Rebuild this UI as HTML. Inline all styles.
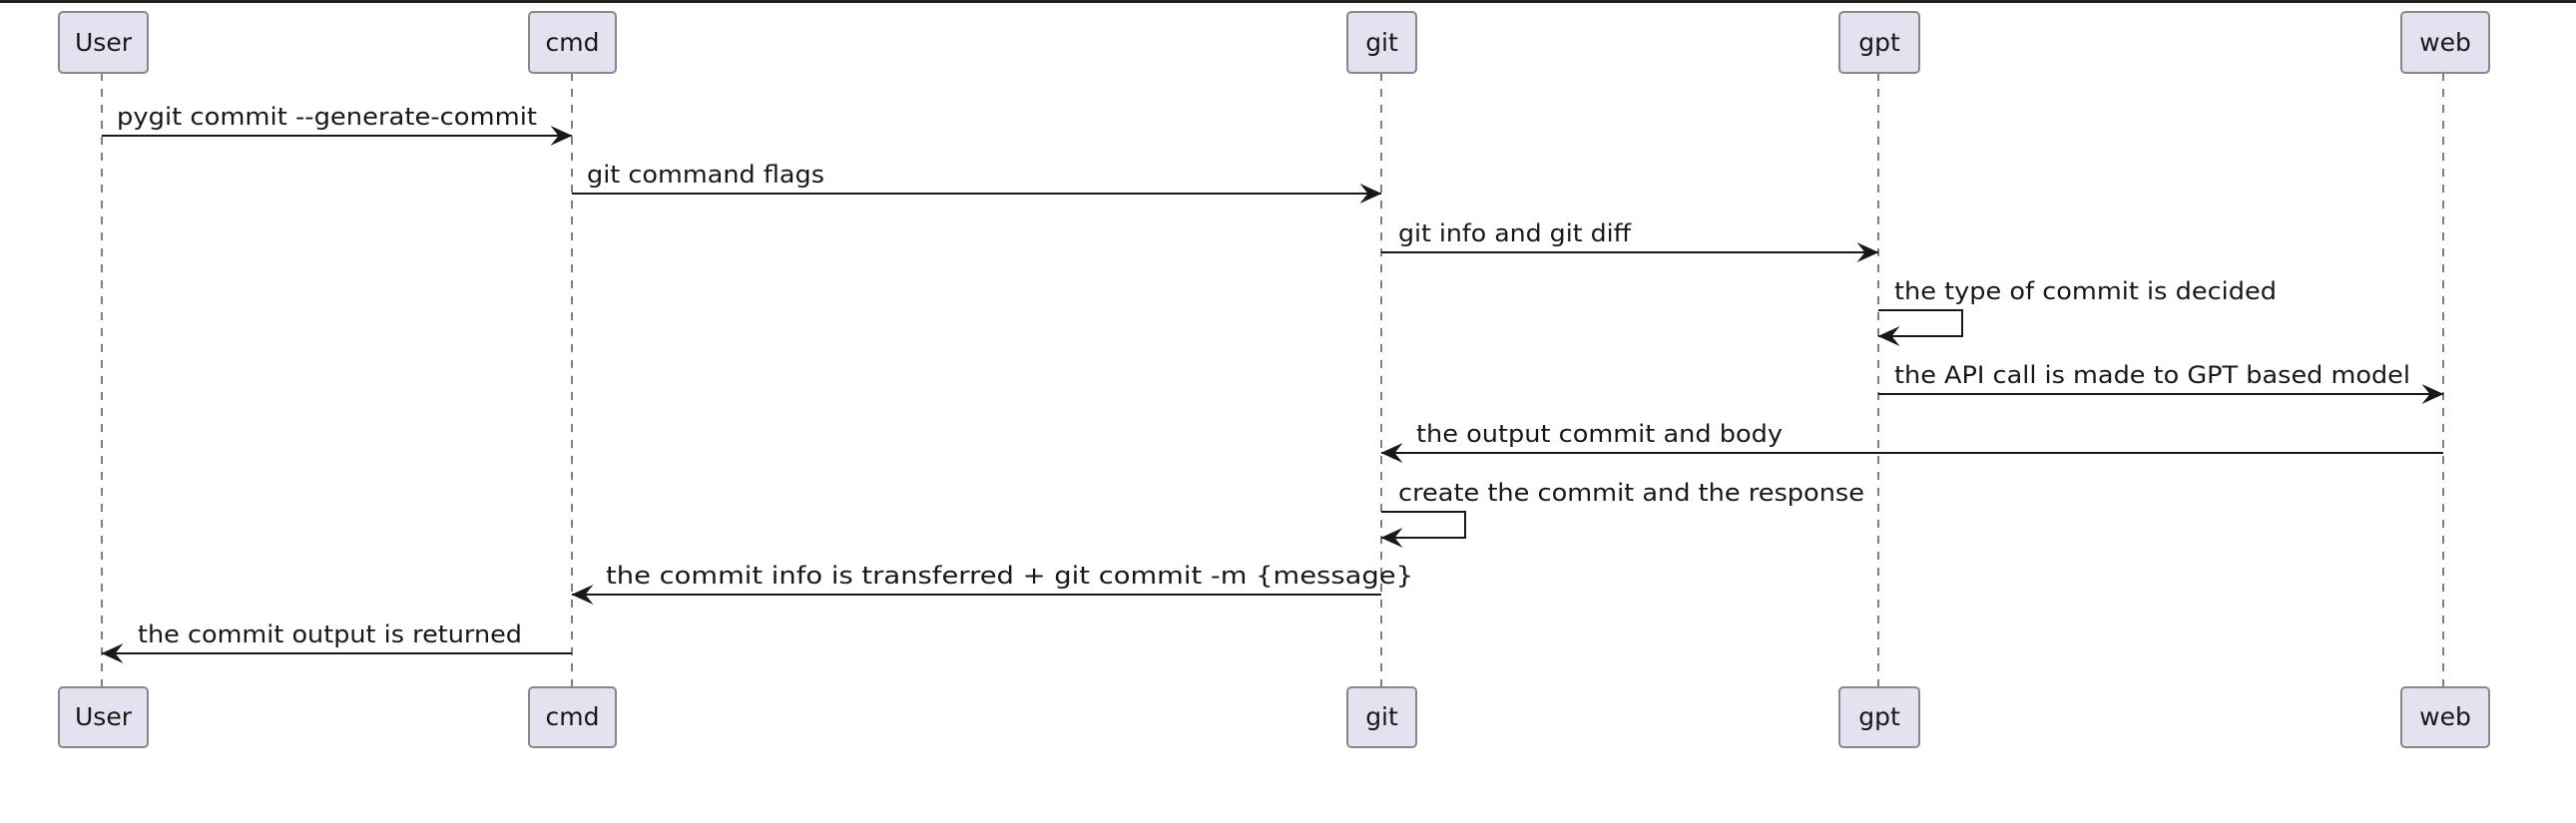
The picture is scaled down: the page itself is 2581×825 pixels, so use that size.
<!DOCTYPE html>
<html><head><meta charset="utf-8"><style>html,body{margin:0;padding:0;background:#fff;}svg{display:block}</style></head><body>
<svg width="2581" height="825" viewBox="0 0 2581 825" xmlns="http://www.w3.org/2000/svg" font-family="'DejaVu Sans','Liberation Sans',sans-serif" font-size="24">
<rect x="0" y="0" width="2581" height="3" fill="#222"/>
<defs>
<marker id="a" viewBox="0 0 22 20" refX="21.5" refY="10" markerWidth="22" markerHeight="20" markerUnits="userSpaceOnUse" orient="auto"><polygon points="0,0 22,10 0,20 8,10" fill="#181818"/></marker>
</defs>
<g stroke="#555" stroke-width="1.5" stroke-dasharray="8,8">
<line x1="102" y1="73" x2="102" y2="689"/>
<line x1="573" y1="73" x2="573" y2="689"/>
<line x1="1384" y1="73" x2="1384" y2="689"/>
<line x1="1882" y1="73" x2="1882" y2="689"/>
<line x1="2448" y1="73" x2="2448" y2="689"/>
</g>
<g fill="#E2E2F0" stroke="#888" stroke-width="2">
<rect x="59" y="12" width="89" height="61" rx="4"/><rect x="530" y="12" width="87" height="61" rx="4"/><rect x="1350" y="12" width="69" height="61" rx="4"/><rect x="1843" y="12" width="80" height="61" rx="4"/><rect x="2406" y="12" width="88" height="61" rx="4"/>
<rect x="59" y="689" width="89" height="60" rx="4"/><rect x="530" y="689" width="87" height="60" rx="4"/><rect x="1350" y="689" width="69" height="60" rx="4"/><rect x="1843" y="689" width="80" height="60" rx="4"/><rect x="2406" y="689" width="88" height="60" rx="4"/>
</g>
<g fill="#181818" font-size="25" text-anchor="middle">
<text x="103.5" y="51">User</text><text x="573.5" y="51">cmd</text><text x="1384.5" y="51">git</text><text x="1883" y="51">gpt</text><text x="2450" y="51">web</text>
<text x="103.5" y="727">User</text><text x="573.5" y="727">cmd</text><text x="1384.5" y="727">git</text><text x="1883" y="727">gpt</text><text x="2450" y="727">web</text>
</g>
<g stroke="#181818" stroke-width="2" fill="none" marker-end="url(#a)">
<line x1="102" y1="136" x2="573" y2="136"/>
<line x1="573" y1="194" x2="1384" y2="194"/>
<line x1="1384" y1="253" x2="1882" y2="253"/>
<polyline points="1882,311 1966,311 1966,337 1882,337"/>
<line x1="1882" y1="395" x2="2448" y2="395"/>
<line x1="2448" y1="454" x2="1384" y2="454"/>
<polyline points="1384,513 1468,513 1468,539 1384,539"/>
<line x1="1384" y1="596" x2="573" y2="596"/>
<line x1="573" y1="655" x2="102" y2="655"/>
</g>
<g fill="#181818">
<text x="117" y="125" textLength="421" lengthAdjust="spacingAndGlyphs">pygit commit --generate-commit</text>
<text x="588" y="183" textLength="238" lengthAdjust="spacingAndGlyphs">git command flags</text>
<text x="1401" y="242" textLength="233" lengthAdjust="spacingAndGlyphs">git info and git diff</text>
<text x="1898" y="300" textLength="383" lengthAdjust="spacingAndGlyphs">the type of commit is decided</text>
<text x="1898" y="384" textLength="517" lengthAdjust="spacingAndGlyphs">the API call is made to GPT based model</text>
<text x="1419" y="443" textLength="367" lengthAdjust="spacingAndGlyphs">the output commit and body</text>
<text x="1401" y="502" textLength="467" lengthAdjust="spacingAndGlyphs">create the commit and the response</text>
<text x="607" y="585" textLength="809" lengthAdjust="spacingAndGlyphs">the commit info is transferred + git commit -m {message}</text>
<text x="138" y="644" textLength="385" lengthAdjust="spacingAndGlyphs">the commit output is returned</text>
</g>
</svg>
</body></html>
